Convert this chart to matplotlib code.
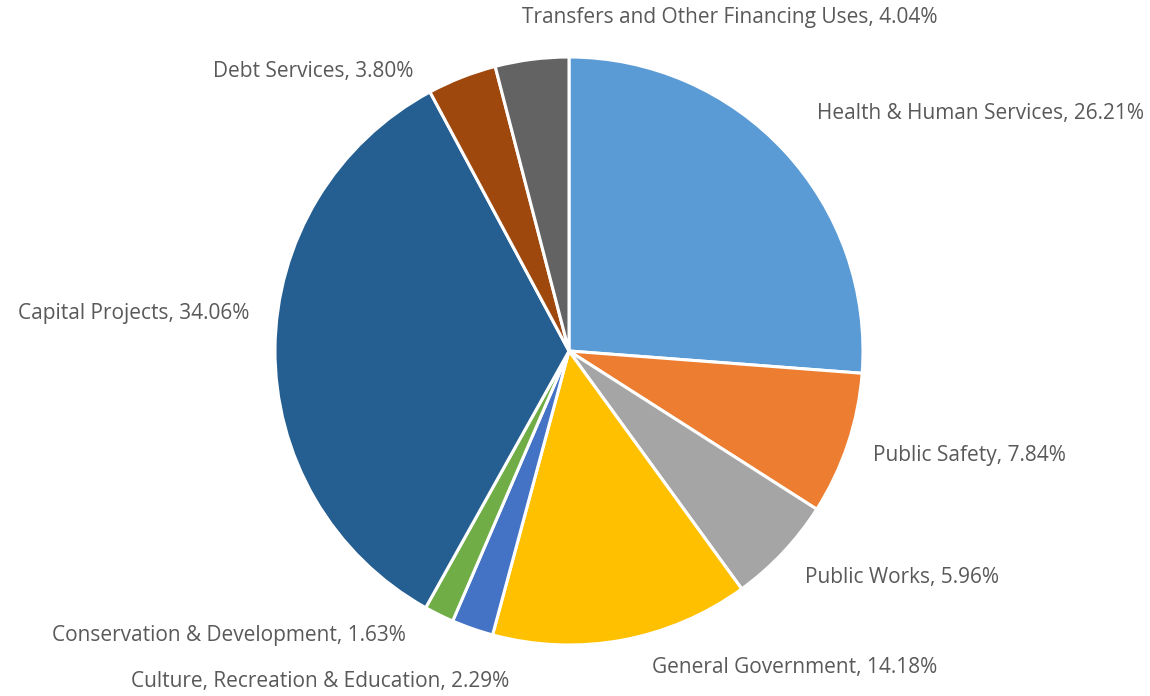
import matplotlib
matplotlib.use("Agg")
import matplotlib.pyplot as plt

categories = ["Health & Human Services", "Public Safety", "Public Works",
              "General Government", "Culture, Recreation & Education",
              "Conservation & Development", "Capital Projects",
              "Debt Services", "Transfers and Other Financing Uses"]
values = [26.21, 7.84, 5.96, 14.18, 2.29, 1.63, 34.06, 3.80, 4.04]
colors = ["#5B9BD5", "#ED7D31", "#A5A5A5", "#FFC000", "#4472C4",
          "#70AD47", "#255E91", "#9E480E", "#636363"]

# label anchor positions in pixel coordinates (x from left, y from top) and alignment
label_pos = [(817, 113, "left"), (873, 455, "left"), (805, 578, "left"),
             (652, 668, "left"), (509, 682, "right"), (406, 636, "right"),
             (249, 313, "right"), (413, 72, "right"), (730, 17, "center")]

W, H = 1150, 696
fig = plt.figure(figsize=(W / 100, H / 100), dpi=100)
ax = fig.add_axes([0, 0, 1, 1])
ax.set_xlim(0, W)
ax.set_ylim(0, H)
ax.set_aspect("equal")
ax.axis("off")

cx, cy, r = 569, H - 351, 294
ax.pie(values, colors=colors, startangle=90, counterclock=False,
       center=(cx, cy), radius=r,
       wedgeprops=dict(edgecolor="white", linewidth=2.2))
ax.set_xlim(0, W)
ax.set_ylim(0, H)

for cat, v, (x, y, ha) in zip(categories, values, label_pos):
    ax.text(x, H - y, f"{cat}, {v:.2f}%", ha=ha, va="center",
            fontsize=15, color="#595959", family=["Open Sans", "DejaVu Sans"])

fig.savefig("out.png", dpi=100)
